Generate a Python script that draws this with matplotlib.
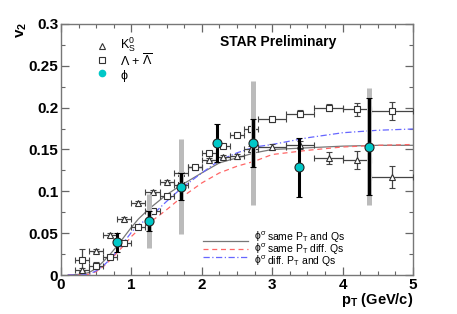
import numpy as np
import matplotlib
matplotlib.use("Agg")
import matplotlib.pyplot as plt
from matplotlib.ticker import MultipleLocator

plt.rcParams['font.family'] = ['Liberation Sans', 'DejaVu Sans']
plt.rcParams['mathtext.fontset'] = 'custom'
plt.rcParams['mathtext.rm'] = 'Liberation Sans'
plt.rcParams['mathtext.it'] = 'Liberation Sans'
plt.rcParams['mathtext.bf'] = 'Liberation Sans:bold'

# K0s (open triangles)
k_x = [0.3, 0.5, 0.7, 0.9, 1.1, 1.3, 1.5, 1.7, 1.9, 2.1, 2.3, 2.5, 2.7, 3.0, 3.4, 3.8, 4.2, 4.7]
k_y = [0.006, 0.029, 0.048, 0.067, 0.086, 0.0996, 0.1115, 0.1215, 0.129, 0.138, 0.1414, 0.142,
       0.151, 0.153, 0.155, 0.140, 0.1375, 0.117]
k_xerr = [0.1] * 13 + [0.2, 0.2, 0.2, 0.2, 0.3]
k_yerr = [0.002, 0.002, 0.002, 0.002, 0.002, 0.002, 0.002, 0.002, 0.002, 0.002, 0.002, 0.003,
          0.003, 0.004, 0.005, 0.007, 0.011, 0.013]

# Lambda + anti-Lambda (open squares)
l_x = [0.3, 0.5, 0.7, 0.9, 1.1, 1.3, 1.5, 1.7, 1.9, 2.1, 2.3, 2.5, 2.7, 3.0, 3.4, 3.8, 4.2, 4.7]
l_y = [0.018, 0.011, 0.021, 0.0385, 0.057, 0.076, 0.094, 0.108, 0.1295, 0.1455, 0.154, 0.1673,
       0.1745, 0.186, 0.193, 0.200, 0.198, 0.196]
l_xerr = [0.1] * 13 + [0.2, 0.2, 0.2, 0.2, 0.3]
l_yerr = [0.013, 0.004, 0.002, 0.002, 0.002, 0.002, 0.002, 0.002, 0.002, 0.002, 0.002, 0.002,
          0.003, 0.003, 0.004, 0.004, 0.008, 0.011]

# phi (cyan dots)
phi_x = [0.80, 1.25, 1.71, 2.22, 2.73, 3.38, 4.37]
phi_y = [0.039, 0.0645, 0.1055, 0.158, 0.158, 0.1287, 0.1534]
phi_stat = [0.011, 0.012, 0.016, 0.023, 0.029, 0.035, 0.058]
phi_sys = [0.0, 0.032, 0.057, 0.0, 0.074, 0.0, 0.070]

# model curves
c_x = [0.1, 0.3, 0.4, 0.5, 0.6, 0.7, 0.8, 0.9, 1.0, 1.1, 1.25, 1.5, 1.7, 2.0, 2.25, 2.5, 2.75,
       3.0, 3.5, 4.0, 4.5, 5.0]
same_pt_qs = [0.0, 0.001, 0.003, 0.008, 0.016, 0.025, 0.035, 0.046, 0.057, 0.067, 0.079, 0.096,
              0.107, 0.122, 0.134, 0.140, 0.146, 0.150, 0.152, 0.154, 0.155, 0.155]
same_pt_diff_qs = [0.0, 0.0, 0.001, 0.004, 0.010, 0.018, 0.027, 0.036, 0.046, 0.054, 0.062, 0.078,
                   0.092, 0.110, 0.122, 0.130, 0.136, 0.144, 0.149, 0.153, 0.155, 0.156]
diff_pt_qs = [0.0, 0.0, 0.001, 0.005, 0.011, 0.019, 0.029, 0.040, 0.051, 0.060, 0.068, 0.088,
              0.103, 0.122, 0.137, 0.146, 0.153, 0.156, 0.164, 0.170, 0.173, 0.1745]

fig = plt.figure(figsize=(4.57, 3.14), dpi=100)
ax = fig.add_axes([0.1335, 0.1242, 0.7702, 0.7994])

# model curves
ax.plot(c_x, same_pt_qs, color='#777777', lw=0.9, ls='-')
ax.plot(c_x, same_pt_diff_qs, color='#ff6666', lw=0.9, ls=(0, (4, 3)))
ax.plot(c_x, diff_pt_qs, color='#6666ff', lw=0.9, ls=(0, (5, 2, 1, 2)))

# K0s and Lambda
ax.errorbar(k_x, k_y, xerr=k_xerr, yerr=k_yerr, fmt='^', ms=4, mfc='white', mec='#333333',
            mew=0.8, ecolor='#444444', elinewidth=0.9, capsize=2, capthick=0.9, zorder=3)
ax.errorbar(l_x, l_y, xerr=l_xerr, yerr=l_yerr, fmt='s', ms=4, mfc='white', mec='#333333',
            mew=0.8, ecolor='#444444', elinewidth=0.9, capsize=2, capthick=0.9, zorder=3)

# phi systematic (grey) and statistical (black)
for x, y, s in zip(phi_x, phi_y, phi_sys):
    if s > 0:
        ax.plot([x, x], [y - s, y + s], color='#bbbbbb', lw=3.6, solid_capstyle='butt', zorder=4)
ax.errorbar(phi_x, phi_y, yerr=phi_stat, fmt='o', ms=6.5, mfc='#00c8c8', mec='#222222', mew=0.8,
            ecolor='black', elinewidth=2.2, capsize=2.5, capthick=1.5, zorder=5)

ax.set_xlim(0, 5)
ax.set_ylim(0, 0.3)
ax.xaxis.set_minor_locator(MultipleLocator(0.25))
ax.yaxis.set_minor_locator(MultipleLocator(0.025))
ax.set_yticks([0, 0.05, 0.1, 0.15, 0.2, 0.25, 0.3])
ax.set_yticklabels(['0', '0.05', '0.1', '0.15', '0.2', '0.25', '0.3'])
ax.set_xticks([0, 1, 2, 3, 4, 5])
ax.set_xticklabels(['0', '1', '2', '3', '4', '5'])
ax.tick_params(which='both', direction='in', top=True, right=True, color='#666666')
ax.tick_params(which='major', length=6, width=0.9, pad=2)
ax.tick_params(which='minor', length=3, width=0.8)
for lab in ax.get_xticklabels() + ax.get_yticklabels():
    lab.set_fontweight('bold')
    lab.set_fontsize(11)
for sp in ax.spines.values():
    sp.set_color('#777777')
    sp.set_linewidth(1.0)

fig.text(22 / 457, 1 - 30 / 314, r'$\mathbf{v_2}$', rotation=90, ha='center', va='center',
         fontsize=11)
fig.text(413 / 457, 1 - 300 / 314, r'$\mathbf{p_T}$ (GeV/c)', ha='right', va='center',
         fontsize=10.5, fontweight='bold')

# top-left legend
ax.plot([0.116], [0.912], '^', ms=4, mfc='white', mec='#333333', mew=0.8, transform=ax.transAxes)
ax.plot([0.116], [0.857], 's', ms=4, mfc='white', mec='#333333', mew=0.8, transform=ax.transAxes)
ax.plot([0.116], [0.805], 'o', ms=4.5, color='#00c8c8', transform=ax.transAxes)
ax.text(0.168, 0.858, '\n'.join([r'K$^0_S$', r'$\Lambda$ + $\overline{\Lambda}$', r'$\phi$']),
        transform=ax.transAxes, va='center', fontsize=9, linespacing=0.95)

ax.text(0.617, 0.93, 'STAR Preliminary', transform=ax.transAxes, ha='center', va='center',
        fontsize=10, fontweight='bold')

# bottom-right legend
leg_y = [0.137, 0.104, 0.071]
leg_lab = [r'same P$_T$ and Qs', r'same P$_T$ diff. Qs', r'diff. P$_T$ and Qs']
leg_style = [('#777777', '-'), ('#ff6666', (0, (4, 3))), ('#6666ff', (0, (5, 2, 1, 2)))]
for yy, (col, ls) in zip(leg_y, leg_style):
    ax.plot([0.403, 0.531], [yy, yy], color=col, ls=ls, lw=0.9, transform=ax.transAxes)
ax.text(0.548, leg_y[1], '\n'.join([r'$\phi^\sigma$'] * 3), transform=ax.transAxes,
        va='center', fontsize=7.5, linespacing=0.8)
ax.text(0.585, leg_y[1], '\n'.join(leg_lab), transform=ax.transAxes, va='center',
        fontsize=7.5, linespacing=0.8)

fig.savefig('out.png', dpi=100)
